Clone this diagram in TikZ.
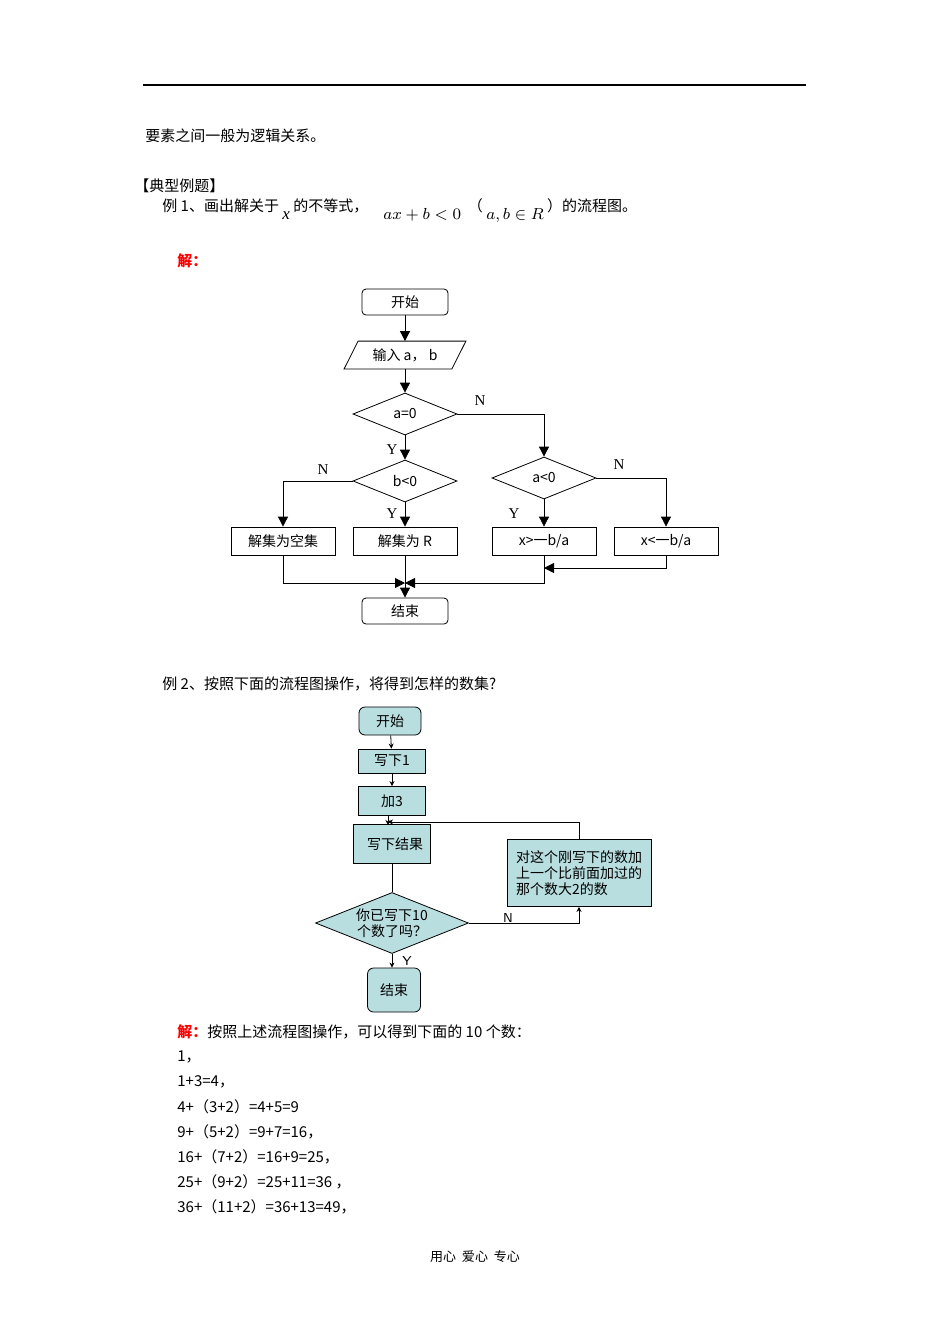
\documentclass[tikz,border=0pt]{standalone}
\usepackage{fontspec}
\setmainfont{Liberation Serif}
\newfontfamily\cjk{Noto Sans CJK SC}
\usetikzlibrary{shapes.geometric,arrows.meta}
\definecolor{cyanfill}{HTML}{B9DEE0}
\begin{document}
\begin{tikzpicture}[x=0.5pt,y=-0.5pt,
   every node/.style={font=\cjk\fontsize{7}{8}\selectfont},
   txt/.style={anchor=west,inner sep=0,font=\cjk\fontsize{7.5}{9}\selectfont},
   term/.style={draw,rounded corners=2pt,minimum width=43pt,minimum height=13pt,inner sep=0},
   box/.style={draw,minimum width=52pt,minimum height=14pt,inner sep=0},
   dec/.style={draw,diamond,aspect=2.5,minimum width=52pt,minimum height=21pt,inner sep=0},
   to/.style={-{Triangle[width=5pt,length=5pt]},thin},
   fl/.style={draw,fill=cyanfill,inner sep=0},
   to2/.style={-{Stealth[width=2.5pt,length=2.5pt]},thin},
   lbl/.style={font=\fontsize{7.5}{8}\selectfont,inner sep=0}]
\useasboundingbox (0,0) rectangle (950,1344);
\draw[line width=0.6pt] (143,85) -- (806,85);
% text
\node[txt] (t1) at (145,136) {要素之间一般为逻辑关系。};
\node[txt] (t2) at (134,186) {【典型例题】};
\node[txt] (t3) at (162,211) {例 1、画出解关于 \raisebox{-1ex}{\rmfamily\itshape\fontsize{8.5}{9}\selectfont x} 的不等式，\quad\raisebox{-1ex}{\fontsize{8.5}{9}\selectfont$ax+b<0$}\ \ （ \raisebox{-1ex}{\fontsize{8.5}{9}\selectfont$a,b\in R$} ）的流程图。};
\node[txt,text=red,font=\cjk\bfseries\fontsize{7.5}{9}\selectfont] (t4) at (177,261) {解：};
% chart 1
\node[term] (start) at (405,302) {开始};
\node[minimum width=53.5pt,minimum height=13.5pt,inner sep=0] (input) at (405,355) {输入 a， b};
\draw ([xshift=-3.5pt]input.south west) -- ([xshift=3.5pt]input.north west)
   -- ([xshift=3.5pt]input.north east) -- ([xshift=-3.5pt]input.south east) -- cycle;
\node[dec] (qa) at (405,414) {a=0};
\node[dec] (qb) at (405,481) {b<0};
\node[dec] (qneg) at (544,478) {a<0};
\node[box] (empty) at (283,541) {解集为空集};
\node[box] (all) at (405,541) {解集为 R};
\node[box] (gt) at (544,541) {x>一b/a};
\node[box] (lt) at (666,541) {x<一b/a};
\node[term] (end) at (405,611) {结束};
\coordinate (mid) at (405,583);
\draw[to] (start) -- (input);
\draw[to] (input) -- (qa);
\draw[to] (qa) -- (qb);
\draw[to] (qa.east) -| (qneg.north);
\draw[to] (qb.west) -| (empty.north);
\draw[to] (qb) -- (all);
\draw[to] (qneg) -- (gt);
\draw[to] (qneg.east) -| (lt.north);
\draw[to] (empty.south) |- (mid);
\draw[to] (gt.south) |- (mid);
\draw[to] (lt.south) |- (544,568);
\draw[to] (all) -- (end);
\node[lbl] at (480,401) {N};
\node[lbl] at (323,470) {N};
\node[lbl] at (619,465) {N};
\node[lbl] at (392,450) {Y};
\node[lbl] at (392,514) {Y};
\node[lbl] at (514,514) {Y};
\node[txt] (t5) at (162,684) {例 2、按照下面的流程图操作，将得到怎样的数集?};
% chart 2
\node[fl,rounded corners=3pt,minimum width=31pt,minimum height=14pt] (s2) at (390,721) {开始};
\node[fl,minimum width=33.5pt,minimum height=12pt] (w1) at (392,761) {写下1};
\node[fl,minimum width=33.5pt,minimum height=14.5pt] (add) at (392,801) {加3};
\node[fl,minimum width=38.5pt,minimum height=19.5pt] (wr) at (392,844) {\ \ 写下结果};
\node[fl,minimum width=72pt,minimum height=33.5pt,align=left] (inc) at (579,873) {对这个刚写下的数加\\上一个比前面加过的\\那个数大2的数};
\node[fl,diamond,aspect=2.5,minimum width=76.5pt,minimum height=30.5pt,align=center] (q10) at (392,923) {你已写下10\\个数了吗？};
\node[fl,rounded corners=3pt,minimum width=26.5pt,minimum height=22pt] (e2) at (394,990) {结束};
\draw[to2] (s2) -- (w1);
\draw[to2] (w1) -- (add);
\draw[to2] (add.south -| 388,0) -- (388,825);
\draw[to2] (inc.north) |- (388,822);
\draw (wr) -- (q10);
\draw[to2] (q10.east) -| (inc.south);
\draw[to2] (q10.south) -- (e2.north -| q10.south);
\node[lbl,font=\sffamily\fontsize{6.5}{7}\selectfont] at (508,918) {N};
\node[lbl,font=\sffamily\fontsize{6.5}{7}\selectfont] at (407,961) {Y};
% answer
\node[txt] (t6) at (177,1032) {\textcolor{red}{\bfseries 解：}按照上述流程图操作，可以得到下面的 10 个数：};
\foreach \line [count=\i] in {1，,1+3=4，,4+（3+2）=4+5=9,9+（5+2）=9+7=16，,16+（7+2）=16+9=25，,25+（9+2）=25+11=36 ，,36+（11+2）=36+13=49，}
  \node[txt] (r\i) at (177,1032+25*\i) {\line};
\node[font=\cjk\fontsize{6.5}{8}\selectfont] (foot) at (475,1257) {用心\ \ 爱心\ \ 专心};
\end{tikzpicture}
\end{document}
